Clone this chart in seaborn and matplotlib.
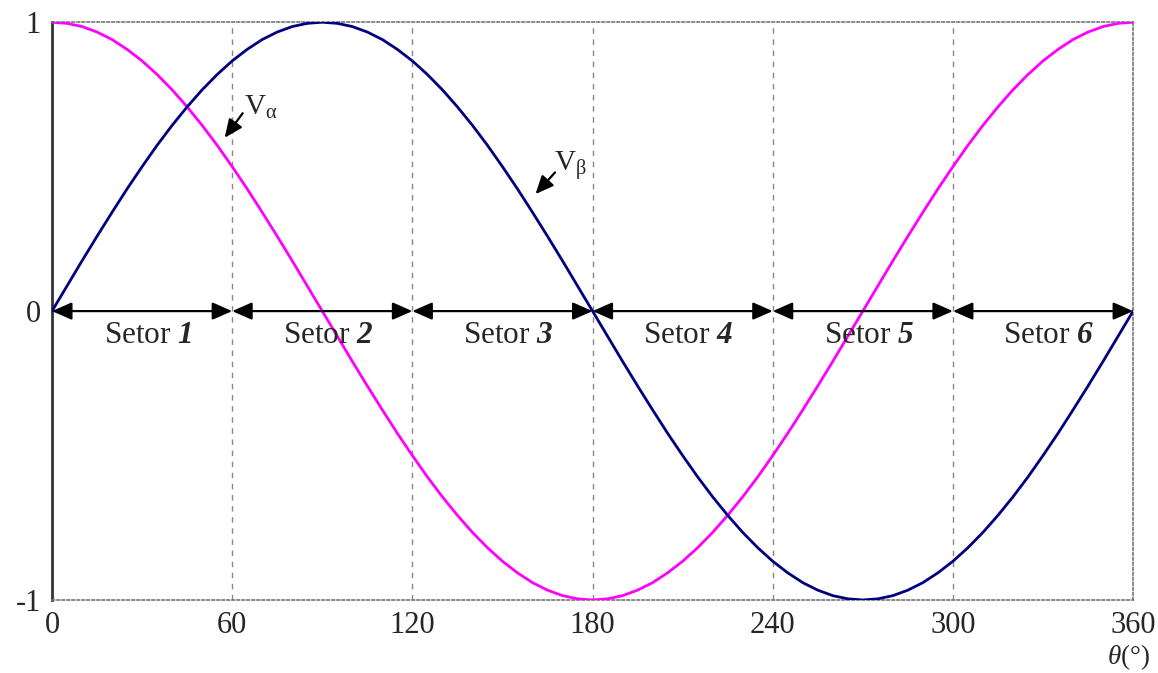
import matplotlib
matplotlib.use("Agg")
import matplotlib.pyplot as plt
import pandas as pd
import seaborn as sns

# Values, every 5 degrees from 0 to 360
theta = list(range(0, 365, 5))
v_alpha = [1.000, 0.996, 0.985, 0.966, 0.940, 0.906, 0.866, 0.819, 0.766, 0.707, 0.643, 0.574, 0.500, 0.423, 0.342, 0.259, 0.174, 0.087, 0.000,
           -0.087, -0.174, -0.259, -0.342, -0.423, -0.500, -0.574, -0.643, -0.707, -0.766, -0.819, -0.866, -0.906, -0.940, -0.966, -0.985, -0.996, -1.000,
           -0.996, -0.985, -0.966, -0.940, -0.906, -0.866, -0.819, -0.766, -0.707, -0.643, -0.574, -0.500, -0.423, -0.342, -0.259, -0.174, -0.087, 0.000,
           0.087, 0.174, 0.259, 0.342, 0.423, 0.500, 0.574, 0.643, 0.707, 0.766, 0.819, 0.866, 0.906, 0.940, 0.966, 0.985, 0.996, 1.000]
v_beta = [0.000, 0.087, 0.174, 0.259, 0.342, 0.423, 0.500, 0.574, 0.643, 0.707, 0.766, 0.819, 0.866, 0.906, 0.940, 0.966, 0.985, 0.996, 1.000,
          0.996, 0.985, 0.966, 0.940, 0.906, 0.866, 0.819, 0.766, 0.707, 0.643, 0.574, 0.500, 0.423, 0.342, 0.259, 0.174, 0.087, 0.000,
          -0.087, -0.174, -0.259, -0.342, -0.423, -0.500, -0.574, -0.643, -0.707, -0.766, -0.819, -0.866, -0.906, -0.940, -0.966, -0.985, -0.996, -1.000,
          -0.996, -0.985, -0.966, -0.940, -0.906, -0.866, -0.819, -0.766, -0.707, -0.643, -0.574, -0.500, -0.423, -0.342, -0.259, -0.174, -0.087, 0.000]
sector_edges = [0, 60, 120, 180, 240, 300, 360]
sector_names = ["1", "2", "3", "4", "5", "6"]
x_ticks = [0, 60, 120, 180, 240, 300, 360]
y_ticks = [-1, 0, 1]

df = pd.DataFrame({"theta": theta, "Va": v_alpha, "Vb": v_beta})

sns.set_style("white")
plt.rcParams["font.family"] = ["Liberation Serif", "DejaVu Serif"]
plt.rcParams["mathtext.fontset"] = "custom"
plt.rcParams["mathtext.rm"] = "Liberation Serif"
plt.rcParams["mathtext.it"] = "Liberation Serif:italic"
plt.rcParams["mathtext.bf"] = "Liberation Serif:bold:italic"

fig = plt.figure(figsize=(11.58, 6.73), dpi=100)
ax = fig.add_axes([0.0449, 0.1085, 0.9336, 0.8585])

# sector dividers
for xv in sector_edges[1:-1]:
    ax.axvline(xv, color="#888888", lw=1.0, ls=(0, (4, 4)), zorder=1)

sns.lineplot(data=df, x="theta", y="Va", color="#ff00ff", lw=2.0, ax=ax, zorder=3)
sns.lineplot(data=df, x="theta", y="Vb", color="#000080", lw=2.0, ax=ax, zorder=3)

head = "head_length=0.5,head_width=0.22"

# sector arrows and labels
for i in range(6):
    a, b = sector_edges[i], sector_edges[i + 1]
    ax.annotate("", xy=(b, 0), xytext=(a, 0),
                arrowprops=dict(arrowstyle="<|-|>," + head, color="black", lw=1.6,
                                mutation_scale=24, shrinkA=0, shrinkB=0),
                zorder=4)
    ax.text((a + b) / 2 + 2, -0.085, r"Setor $\mathbf{%s}$" % sector_names[i],
            ha="center", va="center", fontsize=22.5, zorder=5)

# curve labels
ax.annotate("", xy=(57.5, 0.60), xytext=(63.5, 0.685),
            arrowprops=dict(arrowstyle="-|>," + head, color="black", lw=1.6,
                            mutation_scale=22, shrinkA=0, shrinkB=0))
ax.text(64, 0.658, r"V$_{\mathrm{α}}$", fontsize=21, ha="left", va="bottom")
ax.annotate("", xy=(161, 0.405), xytext=(167.5, 0.48),
            arrowprops=dict(arrowstyle="-|>," + head, color="black", lw=1.6,
                            mutation_scale=22, shrinkA=0, shrinkB=0))
ax.text(167.3, 0.448, r"V$_{\mathrm{β}}$", fontsize=21, ha="left", va="bottom")

ax.set_xlim(0, 360)
ax.set_ylim(-1, 1)
ax.set_xticks(x_ticks)
ax.set_yticks(y_ticks)
ax.set_xticklabels([str(v) for v in x_ticks], fontsize=22)
ax.set_yticklabels(["-1", "0", "1"], fontsize=22)
ax.tick_params(axis="both", length=0, pad=8)
ax.set_xlabel("")
ax.set_ylabel("")

for side in ["top", "right", "bottom"]:
    ax.spines[side].set_color("#777777")
    ax.spines[side].set_linestyle((0, (1.5, 1.5)))
    ax.spines[side].set_linewidth(1.2)
ax.spines["left"].set_color("#333333")
ax.spines["left"].set_linewidth(2.0)

fig.text(1150 / 1158, 0.002, r"$\theta$(°)", ha="right", va="bottom", fontsize=19.5)

fig.savefig("out.png", dpi=100)
